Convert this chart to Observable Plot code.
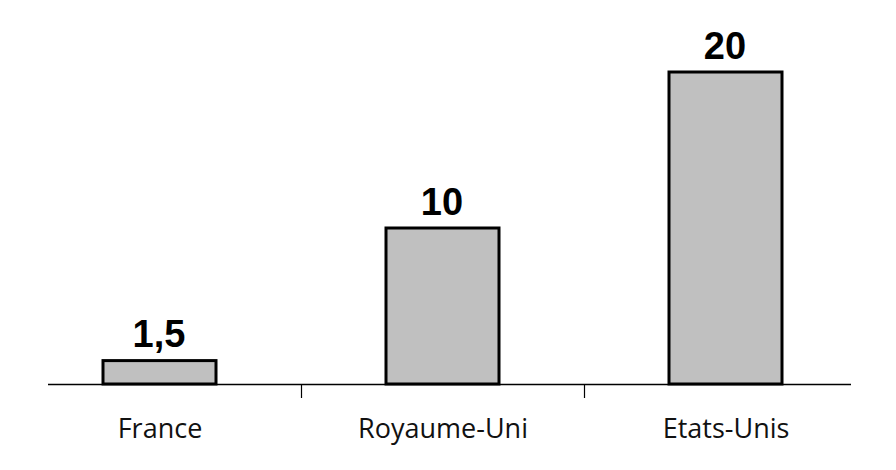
<!DOCTYPE html>
<html>
<head>
<meta charset="utf-8">
<script src="https://cdn.jsdelivr.net/npm/d3@7"></script>
<script src="https://cdn.jsdelivr.net/npm/@observablehq/plot@0.6"></script>
<style>
  html, body { margin: 0; padding: 0; background: #fff; }
</style>
</head>
<body>
<div id="chart"></div>
<script>
const countries = ["France", "Royaume-Uni", "Etats-Unis"];
const values = [1.5, 10, 20];

const data = countries.map((c, i) => ({country: c, value: values[i]}));
const fmt = v => String(v).replace(".", ",");

const chart = Plot.plot({
  width: 896,
  height: 470,
  marginTop: 72,
  marginBottom: 86,
  marginLeft: 48,
  marginRight: 45,
  style: {background: "#fff"},
  x: {domain: countries, range: [18, 867], paddingInner: 0.6, paddingOuter: 0.3, label: null},
  y: {domain: [0, 20], axis: null},
  marks: [
    Plot.barY(data, {x: "country", y: "value", fill: "#c0c0c0", stroke: "#000", strokeWidth: 3}),
    Plot.ruleY([0], {stroke: "#000", strokeWidth: 1.5}),
    Plot.axisX(countries.slice(0, 2), {tickSize: 14, tickFormat: () => "", dx: 141.5, stroke: "#000", strokeWidth: 1.2}),
    Plot.axisX({tickSize: 0, tickPadding: 34, fontSize: 27, fontFamily: "Open Sans", fill: "#111"}),
    Plot.text(data, {x: "country", y: "value", text: d => fmt(d.value), lineAnchor: "bottom", dy: -14, dx: -1,
      fontSize: 38, fontWeight: "bold", fontFamily: "Liberation Sans", fill: "#000"})
  ]
});
document.getElementById("chart").appendChild(chart);
</script>
</body>
</html>
